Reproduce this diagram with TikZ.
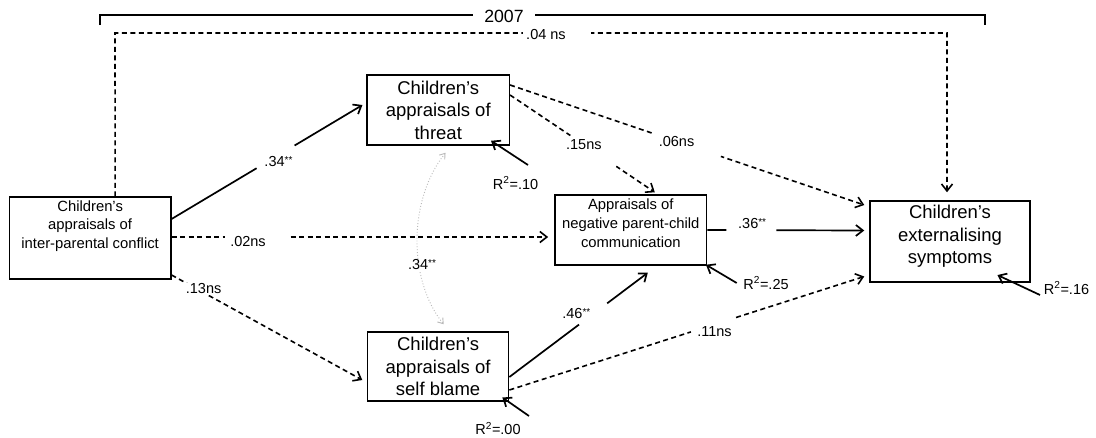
\documentclass[tikz,border=0pt]{standalone}
\usepackage{fontspec}
\setmainfont{Liberation Sans}
\usetikzlibrary{arrows.meta}
% significance stars and explained-variance labels
\newcommand{\sig}{\raisebox{3pt}{\fontsize{10}{10}\selectfont **}}
\newcommand{\rsq}[1]{R\textsuperscript{2}=#1}

\begin{document}
\begin{tikzpicture}[x=1pt,y=-1pt,
  box/.style={draw, line width=1.5pt, inner sep=0pt},
  bigtext/.style={align=center, font=\fontsize{18.5}{22.5}\selectfont, inner sep=0pt},
  smalltext/.style={align=center, font=\fontsize{14.8}{18.8}\selectfont, inner sep=0pt},
  lbl/.style={font=\fontsize{14.5}{16}\selectfont, inner sep=1pt},
  gap/.style={fill=white, sloped, inner sep=0pt, minimum height=6pt},
  tip/.style={-{Straight Barb[length=7pt,width=11pt]}},
  solidarrow/.style={tip, line width=1.7pt},
  dasharrow/.style={tip, line width=1.6pt, dash pattern=on 5pt off 3.5pt},
  corr/.style={{Straight Barb[length=5pt,width=7pt]}-{Straight Barb[length=5pt,width=7pt]},
               gray!55, line width=0.9pt, dotted},
]
\fill[white] (0,0) rectangle (1096,437);
\useasboundingbox (0,0) rectangle (1096,437);

% time-point bracket
\coordinate (brL) at (100,25);
\coordinate (brR) at (985,25);
\draw[line width=1.5pt] (brL) -- ++(0,-10) -| (brR);
\node[fill=white, font=\fontsize{17.7}{20}\selectfont, inner xsep=11pt, inner ysep=2pt] (year) at (504,16) {2007};

% variables
\node[box, minimum width=161.3pt, minimum height=82pt] (conf) at (90.15,238) {};
\node[smalltext] (conftext) at ([yshift=12pt]conf.center) {Children's\\appraisals of\\inter-parental conflict};

\node[box, minimum width=142.1pt, minimum height=70pt] (threat) at (438.25,110) {};
\node[bigtext] (threattext) at (threat.center) {Children's\\appraisals of\\threat};

\node[box, minimum width=141pt, minimum height=69pt] (blame) at (438.1,366.5) {};
\node[bigtext] (blametext) at (blame.center) {Children's\\appraisals of\\self blame};

\node[box, minimum width=151.8pt, minimum height=70pt] (comm) at (630.8,230) {};
\node[smalltext] (commtext) at ([yshift=6.7pt]comm.center) {Appraisals of\\negative parent-child\\communication};

\node[box, minimum width=160pt, minimum height=81pt] (ext) at (950,241.5) {};
\node[bigtext] (exttext) at ([yshift=5pt]ext.center) {Children's\\externalising\\symptoms};

% paths from inter-parental conflict
\draw[solidarrow] ([yshift=19pt]conf.east) --
  node[gap, pos=0.545, minimum width=44pt] {}
  node[lbl, pos=0.56, yshift=-6pt] {.34\sig}
  ([xshift=-4pt,yshift=5pt]threat.west);

\draw[dasharrow] ([yshift=1pt]conf.east) --
  node[gap, pos=0.225, minimum width=62pt] {}
  node[lbl, pos=0.203, yshift=-5pt] {.02ns}
  ([xshift=-6pt,yshift=-7pt]comm.west);

\draw[dasharrow] ([yshift=-37pt]conf.east) --
  node[lbl, fill=white, pos=0.168, yshift=4pt] {.13ns}
  ([xshift=-4.6pt,yshift=-13.5pt]blame.west);

\coordinate (topL) at (115,33);
\coordinate (topR) at (947,33);
\draw[dasharrow] ([xshift=25pt]conf.north) -- (topL) --
  node[gap, pos=0.531, minimum width=68pt] {}
  node[lbl, pos=0.518, yshift=-2pt] {.04 ns}
  (topR) -- ([xshift=-3pt,yshift=8pt]ext.north);

% paths from threat
\draw[dasharrow] ([yshift=15pt]threat.east) --
  node[gap, pos=0.575, minimum width=55pt] {}
  node[lbl, pos=0.51] {.15ns}
  ([xshift=24pt,yshift=2pt]comm.north);

\draw[dasharrow] ([yshift=25pt]threat.east) --
  node[gap, pos=0.50, minimum width=71pt] {}
  node[lbl, pos=0.47] {.06ns}
  ([xshift=-5pt,yshift=36.5pt]ext.west);

% paths from self blame
\draw[solidarrow] ([yshift=-10.5pt]blame.east) --
  node[gap, pos=0.605, minimum width=35pt] {}
  node[lbl, pos=0.484, yshift=13pt] {.46\sig}
  ([xshift=17pt,yshift=-7pt]comm.south);

\draw[dasharrow] ([yshift=-23.5pt]blame.east) --
  node[gap, pos=0.571, minimum width=44pt] {}
  node[lbl, pos=0.578, yshift=-7.5pt] {.11ns}
  ([xshift=-5pt,yshift=-35pt]ext.west);

% mediator to outcome
\draw[solidarrow] (comm.east) --
  node[gap, pos=0.28, minimum width=50pt] {}
  node[lbl, pos=0.285, yshift=7pt] {.36\sig}
  ([xshift=-5pt,yshift=11pt]ext.west);

% correlation between the two appraisals
\draw[corr] ([xshift=7.3pt,yshift=-7pt]threat.south) .. controls (408,200) and (408,280) ..
  ([xshift=5.6pt,yshift=7pt]blame.north);
\node[lbl, fill=white] (corrlbl) at (422,265) {.34\sig};

% residual arrows
\coordinate (e10) at (528,165);
\node[lbl] (r10) at (515.6,183) {\rsq{.10}};
\draw[solidarrow] (e10) -- ([xshift=-19pt,yshift=5pt]threat.south east);

\coordinate (e25) at (736.7,283);
\node[lbl] (r25) at (766,283) {\rsq{.25}};
\draw[solidarrow] (e25) -- ([xshift=-1.5pt,yshift=1pt]comm.south east);

\coordinate (e16) at (1040,295);
\node[lbl] (r16) at (1066.5,288) {\rsq{.16}};
\draw[solidarrow] (e16) -- ([xshift=-33.3pt,yshift=7.7pt]ext.south east);

\coordinate (e00) at (529,416);
\node[lbl] (r00) at (498,428.3) {\rsq{.00}};
\draw[solidarrow] (e00) -- ([xshift=-7pt,yshift=4.3pt]blame.south east);
\end{tikzpicture}
\end{document}
